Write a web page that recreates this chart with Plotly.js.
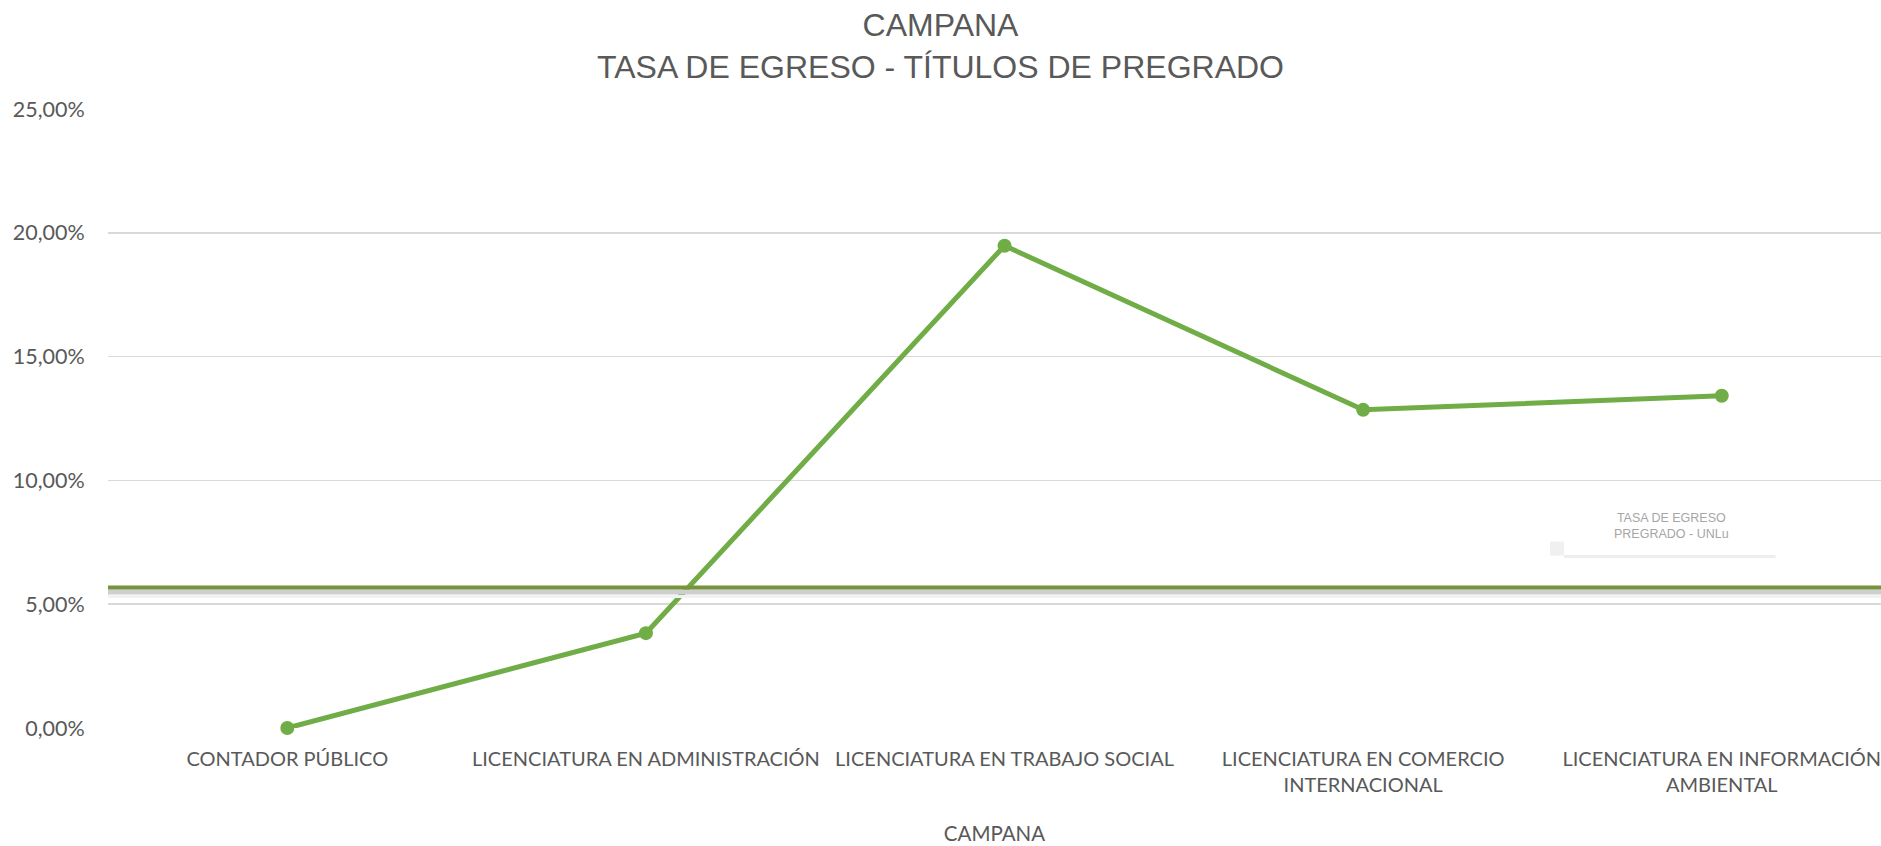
<!DOCTYPE html>
<html>
<head>
<meta charset="utf-8">
<script src="https://cdn.plot.ly/plotly-3.0.1.min.js"></script>
<style>html,body{margin:0;padding:0;background:#fff;}#chart{width:1881px;height:846px;}</style>
</head>
<body>
<div id="chart"></div>
<script>
const categories = [
  "CONTADOR PÚBLICO",
  "LICENCIATURA EN ADMINISTRACIÓN",
  "LICENCIATURA EN TRABAJO SOCIAL",
  "LICENCIATURA EN COMERCIO<br>INTERNACIONAL",
  "LICENCIATURA EN INFORMACIÓN<br>AMBIENTAL"
];
const tasaEgreso = [0.0, 0.0383, 0.1948, 0.1285, 0.1342];
const referenciaUNLu = [0.0567];
const referenciaLabel = "TASA DE EGRESO<br>PREGRADO - UNLu";
const yTicks = [0, 0.05, 0.10, 0.15, 0.20, 0.25];

const trace = {
  x: categories,
  y: tasaEgreso,
  type: 'scatter',
  mode: 'lines+markers',
  name: 'CAMPANA',
  line: {color: '#70AD47', width: 5},
  marker: {color: '#70AD47', size: 14},
  cliponaxis: false
};

const layout = {
  width: 1881,
  height: 846,
  paper_bgcolor: '#ffffff',
  plot_bgcolor: '#ffffff',
  separators: ',.',
  showlegend: false,
  margin: {l: 108, r: 0, t: 109, b: 117.5, pad: 0},
  title: {
    text: 'CAMPANA<br>TASA DE EGRESO - TÍTULOS DE PREGRADO',
    font: {family: 'Liberation Sans, Arial, sans-serif', size: 32, color: '#595959'},
    x: 0.5, xanchor: 'center', yref: 'container', y: 0.957, yanchor: 'top'
  },
  xaxis: {
    type: 'category',
    range: [-0.5, 4.444],
    showgrid: false,
    zeroline: false,
    showline: false,
    ticks: 'outside',
    ticklen: 13,
    tickcolor: 'rgba(0,0,0,0)',
    tickfont: {family: 'Lato, sans-serif', size: 20, color: '#595959'},
    title: {
      text: 'CAMPANA',
      font: {family: 'Lato, sans-serif', size: 20.5, color: '#595959'},
      standoff: 31
    }
  },
  yaxis: {
    range: [0, 0.25],
    tickvals: yTicks,
    tickformat: '.2%',
    showgrid: true,
    gridcolor: '#D9D9D9',
    gridwidth: 1.5,
    zeroline: false,
    showline: false,
    ticks: 'outside',
    ticklen: 18,
    tickcolor: 'rgba(0,0,0,0)',
    tickfont: {family: 'Lato, sans-serif', size: 21.5, color: '#595959'}
  },
  shapes: [
    {type: 'line', xref: 'paper', yref: 'y', x0: 0, x1: 1,
     ysizemode: 'pixel', yanchor: referenciaUNLu[0], y0: -9, y1: -9,
     line: {color: '#F2F2F2', width: 3}, layer: 'above'},
    {type: 'line', xref: 'paper', yref: 'y', x0: 0, x1: 1,
     ysizemode: 'pixel', yanchor: referenciaUNLu[0], y0: -4.5, y1: -4.5,
     line: {color: '#CFCFCF', width: 5}, layer: 'above'},
    {type: 'line', xref: 'paper', yref: 'y', x0: 0, x1: 1,
     y0: referenciaUNLu[0], y1: referenciaUNLu[0],
     line: {color: '#77933C', width: 4}, layer: 'above'},
    {type: 'line', xref: 'x', yref: 'y', x0: 3.56, x1: 4.15,
     ysizemode: 'pixel', yanchor: referenciaUNLu[0], y0: 31, y1: 31,
     line: {color: '#EEEEEE', width: 3}, layer: 'below'},
    {type: 'rect', xref: 'x', yref: 'y', xsizemode: 'pixel', xanchor: 3.56,
     x0: -14, x1: 0, ysizemode: 'pixel', yanchor: referenciaUNLu[0], y0: 32, y1: 46,
     fillcolor: '#F0F0F0', line: {width: 0}, layer: 'below'}
  ],
  annotations: [
    {xref: 'x', yref: 'y', x: 3.86, y: referenciaUNLu[0],
     yshift: 62, text: referenciaLabel, showarrow: false,
     font: {family: 'Liberation Sans, Arial, sans-serif', size: 12.5, color: '#A6A6A6'},
     align: 'center', xanchor: 'center', yanchor: 'middle'}
  ]
};

Plotly.newPlot('chart', [trace], layout, {displayModeBar: false, staticPlot: true});
</script>
</body>
</html>
